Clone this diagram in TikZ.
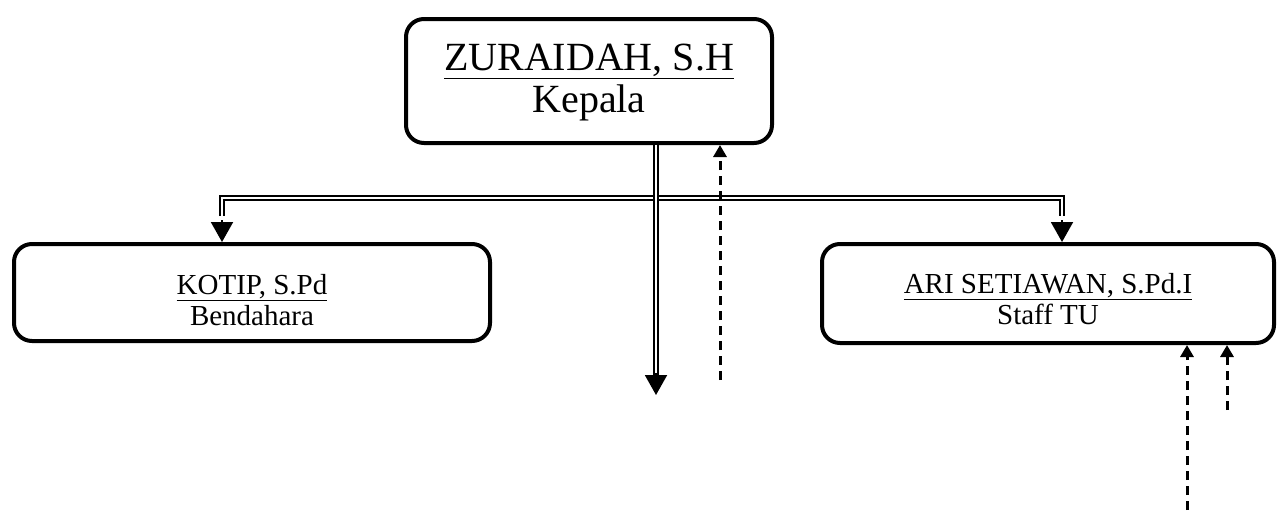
\documentclass[tikz,border=0pt]{standalone}
\usepackage{fontspec}
\setmainfont{Liberation Serif}
\usetikzlibrary{arrows.meta}
\begin{document}
\begin{tikzpicture}[x=1pt,y=-1pt,
  box/.style={draw,line width=4pt,rounded corners=18pt,inner sep=0pt},
  bigtxt/.style={align=center,inner sep=0pt,font=\fontsize{40}{42}\selectfont},
  smtxt/.style={align=center,inner sep=0pt,font=\fontsize{29}{31}\selectfont},
  dbl/.style={draw,double,double distance=2pt,line width=2.2pt},
  tipline/.style={-{Triangle[width=22pt,length=20pt]},line width=2pt},
  dsh/.style={line width=3pt,dash pattern=on 9pt off 6pt,-{Triangle[width=13pt,length=12pt]}}]
\useasboundingbox (0,0) rectangle (1282,517);
% boxes
\node[box,minimum width=366pt,minimum height=124pt] (kepala) at (589,81) {};
\node[bigtxt] (kepalaT) at (589,83) {\underline{ZURAIDAH, S.H}\\Kepala};
\node[box,minimum width=476pt,minimum height=97pt] (kotip) at (252,292.5) {};
\node[smtxt] (kotipT) at (252,300) {\underline{KOTIP, S.Pd}\\Bendahara};
\node[box,minimum width=452pt,minimum height=99pt] (ari) at (1048,293.5) {};
\node[smtxt] (ariT) at (1048,299) {\underline{ARI SETIAWAN, S.Pd.I}\\Staff TU};
% bus
\coordinate (bL) at (222,198);
\coordinate (bR) at (1062,198);
\draw[dbl] ([yshift=26pt]bL |- kotip.north) -- (bL) -- (bR) -- ([yshift=26pt]bR |- ari.north);
\draw[tipline] ([yshift=22pt]bL |- kotip.north) -- (bL |- kotip.north);
\draw[tipline] ([yshift=22pt]bR |- ari.north) -- (bR |- ari.north);
% center down
\coordinate (cEnd) at (656,395);
\draw[dbl] (cEnd |- kepala.south) -- ([yshift=18pt]cEnd);
\draw[tipline] ([yshift=22pt]cEnd) -- (cEnd);
% dashed up arrows
\coordinate (d1) at (720,380);
\draw[dsh] (d1) -- (d1 |- kepala.south);
\coordinate (d2) at (1187,510);
\draw[dsh] (d2) -- (d2 |- ari.south);
\coordinate (d3) at (1227,410);
\draw[dsh] (d3) -- (d3 |- ari.south);
\end{tikzpicture}
\end{document}
